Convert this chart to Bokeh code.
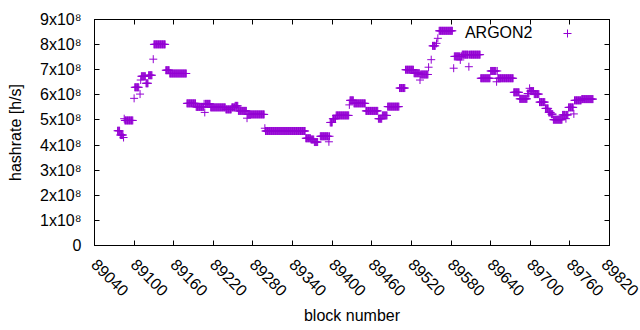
import math
from bokeh.plotting import figure
from bokeh.models import (ColumnDataSource, LinearAxis, FixedTicker, Range1d,
                          Label, Legend, LegendItem)
from bokeh.embed import file_html
from bokeh.resources import INLINE

# ---- data: runs of consecutive blocks sharing the same hashrate (h/s) ----
run_start = [89075, 89079, 89084, 89085, 89086, 89100, 89101, 89109, 89110, 89111,
             89118, 89122, 89129, 89130, 89148, 89154, 89180, 89194, 89206, 89207,
             89208, 89216, 89239, 89248, 89253, 89258, 89271, 89272, 89298, 89299,
             89360, 89368, 89373, 89382, 89395, 89396, 89397, 89401, 89406, 89426,
             89427, 89433, 89451, 89470, 89476, 89484, 89502, 89511, 89524, 89533,
             89534, 89546, 89550, 89552, 89558, 89560, 89562, 89584, 89585, 89594,
             89595, 89597, 89606, 89607, 89608, 89625, 89640, 89649, 89650, 89651,
             89675, 89684, 89696, 89699, 89700, 89706, 89714, 89723, 89728, 89732,
             89735, 89749, 89754, 89755, 89758, 89766, 89767, 89778]
run_end = [89078, 89083, 89084, 89085, 89098, 89100, 89107, 89109, 89110, 89117,
           89121, 89127, 89129, 89147, 89153, 89179, 89193, 89205, 89206, 89207,
           89215, 89238, 89247, 89252, 89257, 89270, 89271, 89297, 89298, 89359,
           89367, 89372, 89378, 89394, 89395, 89396, 89400, 89405, 89425, 89426,
           89432, 89450, 89469, 89475, 89483, 89501, 89510, 89523, 89532, 89533,
           89545, 89546, 89550, 89556, 89558, 89560, 89582, 89584, 89593, 89594,
           89596, 89605, 89606, 89607, 89624, 89639, 89648, 89649, 89650, 89674,
           89683, 89695, 89698, 89699, 89705, 89713, 89722, 89727, 89731, 89734,
           89748, 89753, 89754, 89757, 89765, 89766, 89777, 89795]
run_hashrate = [4.57e8, 4.40e8, 4.30e8, 5.05e8, 4.98e8, 5.86e8, 6.30e8, 6.03e8, 6.59e8, 6.74e8,
                6.46e8, 6.78e8, 7.42e8, 8.01e8, 6.98e8, 6.85e8, 5.66e8, 5.52e8, 5.64e8, 5.30e8,
                5.64e8, 5.50e8, 5.42e8, 5.50e8, 5.56e8, 5.36e8, 5.07e8, 5.22e8, 4.67e8, 4.56e8,
                4.27e8, 4.22e8, 4.12e8, 4.35e8, 4.13e8, 4.35e8, 4.90e8, 5.05e8, 5.18e8, 5.60e8,
                5.78e8, 5.66e8, 5.36e8, 5.05e8, 5.18e8, 5.53e8, 6.27e8, 7.00e8, 6.86e8, 6.59e8,
                6.81e8, 7.10e8, 7.40e8, 7.95e8, 8.05e8, 8.25e8, 8.55e8, 7.06e8, 7.53e8, 7.39e8,
                7.53e8, 7.60e8, 7.60e8, 7.12e8, 7.60e8, 6.66e8, 6.95e8, 6.52e8, 6.95e8, 6.66e8,
                6.10e8, 5.84e8, 6.05e8, 6.26e8, 6.15e8, 6.03e8, 5.71e8, 5.46e8, 5.30e8, 5.23e8,
                5.01e8, 5.20e8, 5.05e8, 5.20e8, 5.50e8, 5.24e8, 5.78e8, 5.83e8]

series_name = "ARGON2"
x_ticks = [89040, 89100, 89160, 89220, 89280, 89340, 89400, 89460, 89520,
           89580, 89640, 89700, 89760, 89820]
y_ticks = [0, 1e8, 2e8, 3e8, 4e8, 5e8, 6e8, 7e8, 8e8, 9e8]
y_tick_labels = ["0", "1x10⁸", "2x10⁸", "3x10⁸", "4x10⁸", "5x10⁸",
                 "6x10⁸", "7x10⁸", "8x10⁸", "9x10⁸"]

# expand runs into one point per block
blocks, rates = [], []
for s, e, v in zip(run_start, run_end, run_hashrate):
    for b in range(s, e + 1):
        blocks.append(b)
        rates.append(v)
src = ColumnDataSource(dict(block=blocks, rate=rates))

FONT = "Liberation Sans"
COLOR = "#9400D3"

p = figure(width=640, height=330, output_backend="svg", toolbar_location=None,
           x_range=Range1d(89040, 89820), y_range=Range1d(0, 9e8),
           min_border_left=94, min_border_right=31, min_border_top=19,
           min_border_bottom=85,
           x_axis_label="block number", y_axis_label="hashrate [h/s]")
p.grid.visible = False
p.outline_line_color = "black"
p.outline_line_alpha = 1.0
p.outline_line_width = 1
p.background_fill_color = "white"
p.border_fill_color = "white"

r = p.scatter(x="block", y="rate", source=src, marker="cross", size=8,
              line_color=COLOR, line_width=1)

def style_axis(ax, show_labels=True):
    ax.axis_line_color = "black"
    ax.major_tick_line_color = "black"
    ax.major_tick_in = 5
    ax.major_tick_out = 0
    ax.minor_tick_line_color = None
    ax.major_label_text_font = FONT
    ax.axis_label_text_font = FONT
    ax.axis_label_text_font_style = "normal"
    ax.axis_label_text_font_size = "16px"
    ax.axis_label_text_color = "black"
    if show_labels:
        ax.major_label_text_font_size = "16px"
        ax.major_label_text_color = "black"
    else:
        ax.major_label_text_font_size = "0px"
        ax.major_label_text_color = None
        ax.major_label_standoff = 0

xa = p.xaxis[0]
style_axis(xa)
xa.ticker = FixedTicker(ticks=x_ticks)
xa.major_label_orientation = -math.pi / 4
xa.major_label_standoff = 16
xa.axis_label_standoff = 3

ya = p.yaxis[0]
style_axis(ya)
ya.ticker = FixedTicker(ticks=y_ticks)
ya.major_label_overrides = {t: lab for t, lab in zip(y_ticks, y_tick_labels)}
ya.major_label_standoff = 13
ya.axis_label_standoff = 13

ra = LinearAxis(ticker=FixedTicker(ticks=y_ticks))
style_axis(ra, show_labels=False)
p.add_layout(ra, "right")
ta = LinearAxis(ticker=FixedTicker(ticks=x_ticks))
style_axis(ta, show_labels=False)
p.add_layout(ta, "above")

# key: text then sample, as in the original
p.add_layout(Label(x=438, y=213, x_units="screen", y_units="screen",
                   text=series_name, text_align="right", text_baseline="middle",
                   text_font=FONT, text_font_size="16px", text_color="black"))
leg = Legend(items=[LegendItem(label=" ", renderers=[r])], location=(463, 202),
             padding=0, margin=0, border_line_color=None, background_fill_alpha=0,
             glyph_width=20, glyph_height=20, label_width=0, label_standoff=0,
             label_text_font_size="16px")
p.add_layout(leg)

open("out.html", "w").write(file_html(p, INLINE))
